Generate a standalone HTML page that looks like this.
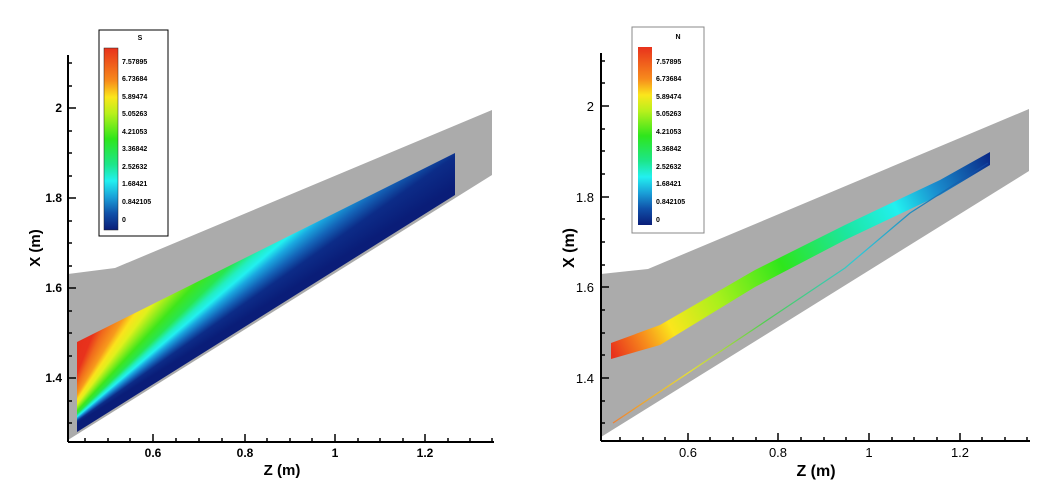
<!DOCTYPE html>
<html><head><meta charset="utf-8"><style>
body{margin:0;background:#fff;position:relative;width:1058px;height:491px;overflow:hidden;}
svg{display:block;font-family:"Liberation Sans",sans-serif;font-weight:bold;position:absolute;left:0;top:0;}
#fan{position:absolute;left:0;top:0;width:1058px;height:491px;
background:conic-gradient(from 0deg at 50px 440px,#e02818 0deg,#e8321c 22deg,#f06a1c 26deg,#f79a1c 31deg,#fbe21c 34deg,#e0f01c 37deg,#90ec1c 40deg,#3ee61c 43deg,#28e650 46deg,#22eec0 48deg,#22f0f0 49.5deg,#1aa8e0 51deg,#1464b8 53deg,#0c2c88 55deg,#0a1d78 58deg,#0a1d78 360deg);
clip-path:polygon(77px 342px,455px 153px,455px 195px,77px 432px);}
</style></head><body>
<svg width="1058" height="491" viewBox="0 0 1058 491">
<defs>
<linearGradient id="gR" gradientUnits="userSpaceOnUse" x1="611" y1="350" x2="990" y2="158">
<stop offset="0" stop-color="#e8321c"/>
<stop offset="0.08" stop-color="#f78b1c"/>
<stop offset="0.15" stop-color="#fbe61c"/>
<stop offset="0.28" stop-color="#a8f01c"/>
<stop offset="0.45" stop-color="#2ee61c"/>
<stop offset="0.62" stop-color="#1ce6a0"/>
<stop offset="0.75" stop-color="#22f0f0"/>
<stop offset="0.85" stop-color="#1a90d0"/>
<stop offset="1" stop-color="#0a2a88"/>
</linearGradient>
<linearGradient id="gLine" gradientUnits="userSpaceOnUse" x1="613" y1="423" x2="988" y2="163">
<stop offset="0" stop-color="#f08030"/>
<stop offset="0.2" stop-color="#e8e030"/>
<stop offset="0.4" stop-color="#50d050"/>
<stop offset="0.65" stop-color="#30c8d8"/>
<stop offset="1" stop-color="#1040a0"/>
</linearGradient>
<linearGradient id="cb" x1="0" y1="0" x2="0" y2="1">
<stop offset="0" stop-color="#e8321c"/>
<stop offset="0.18" stop-color="#f78b1c"/>
<stop offset="0.27" stop-color="#fbe61c"/>
<stop offset="0.36" stop-color="#b8f01c"/>
<stop offset="0.5" stop-color="#2ee61c"/>
<stop offset="0.64" stop-color="#1ce68a"/>
<stop offset="0.73" stop-color="#22f0f0"/>
<stop offset="0.82" stop-color="#1aa0d8"/>
<stop offset="0.91" stop-color="#1050a8"/>
<stop offset="1" stop-color="#0a1d78"/>
</linearGradient>
</defs>

<!-- LEFT PANEL -->
<polygon points="68,274 115,268 492,110 492,175 68,440" fill="#ababab"/>
<g stroke="#000" stroke-width="2" fill="none">
<line x1="68" y1="55" x2="68" y2="442"/><line x1="68" y1="442" x2="494" y2="442"/>
</g>
<g stroke="#000" stroke-width="1.5">
<line x1="68" y1="108" x2="76" y2="108"/><line x1="68" y1="198" x2="76" y2="198"/><line x1="68" y1="288" x2="76" y2="288"/><line x1="68" y1="378" x2="76" y2="378"/>
<line x1="68" y1="63" x2="72" y2="63"/><line x1="68" y1="86" x2="72" y2="86"/><line x1="68" y1="131" x2="72" y2="131"/><line x1="68" y1="153" x2="72" y2="153"/><line x1="68" y1="176" x2="72" y2="176"/><line x1="68" y1="221" x2="72" y2="221"/><line x1="68" y1="243" x2="72" y2="243"/><line x1="68" y1="266" x2="72" y2="266"/><line x1="68" y1="311" x2="72" y2="311"/><line x1="68" y1="333" x2="72" y2="333"/><line x1="68" y1="356" x2="72" y2="356"/><line x1="68" y1="401" x2="72" y2="401"/><line x1="68" y1="423" x2="72" y2="423"/>
<line x1="153" y1="442" x2="153" y2="434"/><line x1="245" y1="442" x2="245" y2="434"/><line x1="335" y1="442" x2="335" y2="434"/><line x1="425" y1="442" x2="425" y2="434"/>
<line x1="85" y1="442" x2="85" y2="438"/><line x1="108" y1="442" x2="108" y2="438"/><line x1="130" y1="442" x2="130" y2="438"/><line x1="176" y1="442" x2="176" y2="438"/><line x1="199" y1="442" x2="199" y2="438"/><line x1="222" y1="442" x2="222" y2="438"/><line x1="267" y1="442" x2="267" y2="438"/><line x1="290" y1="442" x2="290" y2="438"/><line x1="312" y1="442" x2="312" y2="438"/><line x1="358" y1="442" x2="358" y2="438"/><line x1="380" y1="442" x2="380" y2="438"/><line x1="403" y1="442" x2="403" y2="438"/><line x1="448" y1="442" x2="448" y2="438"/><line x1="470" y1="442" x2="470" y2="438"/><line x1="492" y1="442" x2="492" y2="438"/>
</g>
<g font-size="12" text-anchor="end">
<text x="62" y="112">2</text><text x="62" y="202">1.8</text><text x="62" y="292">1.6</text><text x="62" y="382">1.4</text>
</g>
<g font-size="12" text-anchor="middle">
<text x="153" y="457">0.6</text><text x="245" y="457">0.8</text><text x="335" y="457">1</text><text x="425" y="457">1.2</text>
<text x="282" y="475" font-size="15">Z (m)</text>
</g>
<text transform="translate(40,248) rotate(-90)" font-size="15" text-anchor="middle">X (m)</text>
<rect x="99" y="30" width="69" height="206" fill="#fff" stroke="#000" stroke-width="1"/>
<rect x="104" y="48" width="14" height="182" fill="url(#cb)" stroke="#222" stroke-width="0.5"/>
<g font-size="7" fill="#000">
<text x="140" y="40" text-anchor="middle">S</text>
<text x="122" y="64">7.57895</text><text x="122" y="81">6.73684</text><text x="122" y="99">5.89474</text><text x="122" y="116">5.05263</text><text x="122" y="134">4.21053</text><text x="122" y="151">3.36842</text><text x="122" y="169">2.52632</text><text x="122" y="186">1.68421</text><text x="122" y="204">0.842105</text><text x="122" y="222">0</text>
</g>

<!-- RIGHT PANEL -->
<polygon points="601,274 648,269 1029,109 1029,171 601,437" fill="#ababab"/>
<polygon points="611,343 660,325 755,270 845,225 940,180 990,152 990,165 940,195 845,240 755,287 660,345 611,359" fill="url(#gR)"/>
<polyline points="613,423 757,327 845,268 910,213 988,163" fill="none" stroke="url(#gLine)" stroke-width="1.3"/>
<g stroke="#000" stroke-width="2" fill="none">
<line x1="601" y1="53" x2="601" y2="441"/><line x1="601" y1="441" x2="1030" y2="441"/>
</g>
<g stroke="#000" stroke-width="1.5">
<line x1="601" y1="106" x2="609" y2="106"/><line x1="601" y1="197" x2="609" y2="197"/><line x1="601" y1="287" x2="609" y2="287"/><line x1="601" y1="378" x2="609" y2="378"/>
<line x1="601" y1="61" x2="605" y2="61"/><line x1="601" y1="83" x2="605" y2="83"/><line x1="601" y1="129" x2="605" y2="129"/><line x1="601" y1="151" x2="605" y2="151"/><line x1="601" y1="174" x2="605" y2="174"/><line x1="601" y1="219" x2="605" y2="219"/><line x1="601" y1="242" x2="605" y2="242"/><line x1="601" y1="265" x2="605" y2="265"/><line x1="601" y1="310" x2="605" y2="310"/><line x1="601" y1="333" x2="605" y2="333"/><line x1="601" y1="355" x2="605" y2="355"/><line x1="601" y1="401" x2="605" y2="401"/><line x1="601" y1="423" x2="605" y2="423"/>
<line x1="688" y1="441" x2="688" y2="433"/><line x1="778" y1="441" x2="778" y2="433"/><line x1="869" y1="441" x2="869" y2="433"/><line x1="960" y1="441" x2="960" y2="433"/>
<line x1="620" y1="441" x2="620" y2="437"/><line x1="643" y1="441" x2="643" y2="437"/><line x1="665" y1="441" x2="665" y2="437"/><line x1="710" y1="441" x2="710" y2="437"/><line x1="733" y1="441" x2="733" y2="437"/><line x1="756" y1="441" x2="756" y2="437"/><line x1="801" y1="441" x2="801" y2="437"/><line x1="824" y1="441" x2="824" y2="437"/><line x1="846" y1="441" x2="846" y2="437"/><line x1="892" y1="441" x2="892" y2="437"/><line x1="914" y1="441" x2="914" y2="437"/><line x1="937" y1="441" x2="937" y2="437"/><line x1="982" y1="441" x2="982" y2="437"/><line x1="1005" y1="441" x2="1005" y2="437"/><line x1="1027" y1="441" x2="1027" y2="437"/>
</g>
<g font-size="13" font-weight="normal" text-anchor="end">
<text x="594" y="111">2</text><text x="594" y="202">1.8</text><text x="594" y="292">1.6</text><text x="594" y="383">1.4</text>
</g>
<g font-size="13" font-weight="normal" text-anchor="middle">
<text x="688" y="457">0.6</text><text x="778" y="457">0.8</text><text x="869" y="457">1</text><text x="960" y="457">1.2</text>
</g>
<text x="816" y="476" font-size="16" text-anchor="middle">Z (m)</text>
<text transform="translate(574,248) rotate(-90)" font-size="16" text-anchor="middle">X (m)</text>
<rect x="632" y="27" width="72" height="206" fill="#fff" stroke="#888" stroke-width="1"/>
<rect x="638" y="47" width="14" height="178" fill="url(#cb)"/>
<g font-size="7" fill="#000">
<text x="678" y="39" text-anchor="middle">N</text>
<text x="656" y="64">7.57895</text><text x="656" y="81">6.73684</text><text x="656" y="99">5.89474</text><text x="656" y="116">5.05263</text><text x="656" y="134">4.21053</text><text x="656" y="151">3.36842</text><text x="656" y="169">2.52632</text><text x="656" y="186">1.68421</text><text x="656" y="204">0.842105</text><text x="656" y="222">0</text>
</g>
</svg>
<div id="fan"></div>
</body></html>
